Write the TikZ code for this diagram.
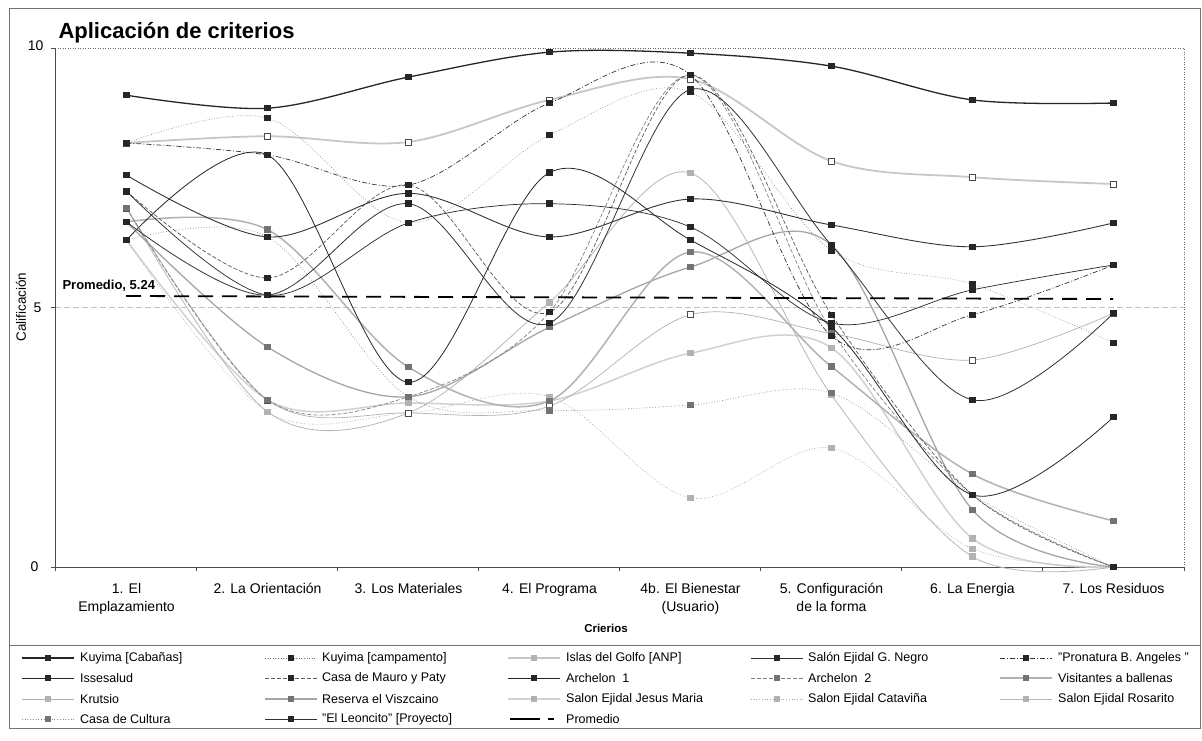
\documentclass[tikz,border=0pt]{standalone}
\usepackage{fontspec}
\setmainfont{Liberation Sans}
\newcommand\fsz[1]{\fontsize{#1}{1.2\dimexpr#1pt\relax}\selectfont}
\newcommand\ser[3]{%
 \gdef\mycoords{}%
 \foreach \v [count=\i from 0] in {#3}{\xdef\mycoords{\mycoords ({126.5+141*\i},{567-51.9*\v})}}%
 \edef\mytmp{\noexpand\draw[#1] plot[smooth,tension=0.55] coordinates {\mycoords};}\mytmp
 \foreach \v [count=\i from 0] in {#3}{\node[mk,#2] at ({126.5+141*\i},{567-51.9*\v}) {};}%
}
\newcommand\leg[4]{% x0, y, style, marker
 \draw[#3] (#1,#2) -- ++(52,0);
 \node[mk,#4] at ({#1+26},#2) {};
}
\begin{document}
\begin{tikzpicture}[x=1pt,y=-1pt,
  mk/.style={rectangle,inner sep=0pt,minimum size=6.5pt,draw=none},
  mdark/.style={fill=black!85},
  mgray/.style={fill=black!55},
  mlight/.style={fill=black!30},
  mopen/.style={fill=white,draw=black!70,line width=0.6pt,minimum size=6pt},
  sA/.style={black!85,line width=1.3pt},
  sB/.style={black!55,line width=0.6pt,dotted},
  sC/.style={black!22,line width=1.8pt},
  sD/.style={black!80,line width=0.9pt},
  sE/.style={black!80,line width=0.7pt,dash pattern=on 5pt off 2pt on 1pt off 2pt},
  sF/.style={black!85,line width=0.7pt},
  sG/.style={black!65,line width=0.7pt,dash pattern=on 4pt off 2pt},
  sH/.style={black!85,line width=0.8pt},
  sI/.style={black!50,line width=0.7pt,dash pattern=on 4pt off 2pt},
  sJ/.style={black!30,line width=1.5pt},
  sK/.style={black!30,line width=0.7pt},
  sL/.style={black!35,line width=1.3pt},
  sM/.style={black!18,line width=1.5pt},
  sN/.style={black!35,line width=0.7pt,dotted},
  sO/.style={black!28,line width=0.8pt},
  sP/.style={black!45,line width=0.7pt,dotted},
  sQ/.style={black!80,line width=0.8pt},
  lbl/.style={font=\fsz{14},inner sep=1pt},
  legt/.style={font=\fsz{12.5},anchor=west,inner sep=0pt}
]
\useasboundingbox (0,0) rectangle (1202,740);
\fill[white] (0,0) rectangle (1202,740);
% frames
\draw[black!55,line width=0.8pt] (9,8) rectangle (1200,728);
\draw[black!55,line width=0.8pt] (9,645) -- (1200,645);
% plot area
\draw[black!60,line width=0.5pt,dotted] (55,48) -- (1184,48) -- (1184,567);
\draw[black!25,line width=0.6pt,dash pattern=on 6pt off 3pt] (55,307.5) -- (1184,307.5);
\draw[black!70,line width=0.6pt] (55,48) -- (55,567) -- (1184,567);
\foreach \k in {0,...,8} \draw[black!70,line width=0.5pt] ({55+141.1*\k},567) -- ++(0,4);
\foreach \yy in {48,307.5,567} \draw[black!70,line width=0.5pt] (51,\yy) -- (55,\yy);
\node[anchor=east,font=\fsz{14}] (y10) at (47,46) {10};
\node[anchor=east,font=\fsz{14}] (y5) at (45,308) {5};
\node[anchor=east,font=\fsz{14}] (y0) at (42,567) {0};
\node[rotate=90,font=\fsz{13.5}] (ylab) at (21,307) {Calificación};
% title
\node[anchor=base west,font=\bfseries\fsz{22}] (title) at (55,38) {Aplicación de criterios};
% categories
\node[lbl,anchor=north,align=center] (c1) at (126.5,582) {1. El\\[1pt]Emplazamiento};
\node[lbl,anchor=north] (c2) at (267.5,582) {2. La Orientación};
\node[lbl,anchor=north] (c3) at (408.5,582) {3. Los Materiales};
\node[lbl,anchor=north] (c4) at (549.5,582) {4. El Programa};
\node[lbl,anchor=north,align=center] (c5) at (690.5,582) {4b. El Bienestar\\[1pt](Usuario)};
\node[lbl,anchor=north,align=center] (c6) at (831.5,582) {5. Configuración\\[1pt]de la forma};
\node[lbl,anchor=north] (c7) at (972.5,582) {6. La Energia};
\node[lbl,anchor=north] (c8) at (1113.5,582) {7. Los Residuos};
\node[font=\bfseries\fsz{11.5}] (xlab) at (606,628) {Crierios};
% series (light first)
\ser{sC}{mopen}{8.17,8.3,8.19,9.0,9.4,7.82,7.51,7.38}
\ser{sM}{mlight}{6.3,3.22,3.16,3.2,4.12,4.22,0.55,0}
\ser{sN}{mlight}{6.3,2.99,2.97,3.28,1.33,2.29,0.35,0}
\ser{sO}{mlight}{6.92,2.99,2.97,5.1,7.59,3.31,0.2,0}
\ser{sK}{mopen}{6.92,3.22,2.97,3.1,4.86,4.5,3.99,4.89}
\ser{sL}{mgray}{6.65,4.24,3.28,4.62,5.78,6.2,1.1,0}
\ser{sJ}{mgray}{6.65,6.5,3.85,3.2,6.07,3.86,1.79,0.89}
\ser{sP}{mgray}{6.3,6.36,3.28,3.02,3.12,3.35,1.39,0}
\ser{sI}{mgray}{6.92,3.22,3.28,4.91,9.48,4.55,1.39,0}
\ser{sB}{mdark}{8.17,8.65,6.63,8.32,9.15,6.1,5.45,4.32}
\ser{sE}{mdark}{8.17,7.94,7.36,8.94,9.48,4.45,4.86,5.82}
\ser{sG}{mdark}{7.24,5.57,7.36,4.91,9.48,4.86,1.39,0}
\ser{sF}{mdark}{7.24,5.24,6.63,7.0,6.55,4.7,5.34,5.82}
\ser{sQ}{mdark}{6.65,5.24,7.0,4.7,9.2,6.2,3.22,4.89}
\ser{sH}{mdark}{6.3,7.94,3.56,7.6,6.3,4.62,1.39,2.89}
\ser{sD}{mdark}{7.55,6.36,7.2,6.36,7.09,6.59,6.17,6.63}
\ser{sA}{mdark}{9.09,8.84,9.44,9.92,9.9,9.65,9.0,8.94}
% promedio
\coordinate (pa) at (126,296);
\coordinate (pb) at (1113,299);
\draw[black,line width=1.8pt,dash pattern=on 15pt off 9pt] (pa) -- (pb);
\node[anchor=base west,font=\bfseries\fsz{13}] (plab) at (59,289) {Promedio, 5.24};
% legend
\leg{22}{658}{sA}{mdark}\node[legt] (l1) at (80,658) {Kuyima [Cabañas]};
\leg{265}{658}{sB}{mdark}\node[legt] (l2) at (322,658) {Kuyima [campamento]};
\leg{508}{658}{sC}{mlight}\node[legt] (l3) at (566,658) {Islas del Golfo [ANP]};
\leg{751}{658}{sD}{mdark}\node[legt] (l4) at (808,658) {Salón Ejidal G. Negro};
\leg{1000}{658}{sE}{mdark}\node[legt] (l5) at (1058,658) {"Pronatura B. Angeles "};
\leg{22}{678}{sF}{mdark}\node[legt] (l6) at (80,678) {Issesalud};
\leg{265}{678}{sG}{mdark}\node[legt] (l7) at (322,678) {Casa de Mauro y Paty};
\leg{508}{678}{sH}{mdark}\node[legt] (l8) at (566,678) {Archelon\ \ 1};
\leg{751}{678}{sI}{mgray}\node[legt] (l9) at (808,678) {Archelon\ \ 2};
\leg{1000}{678}{sJ}{mgray}\node[legt] (l10) at (1058,678) {Visitantes a ballenas};
\leg{22}{699}{sK}{mlight}\node[legt] (l11) at (80,699) {Krutsio};
\leg{265}{699}{sL}{mgray}\node[legt] (l12) at (322,699) {Reserva el Viszcaino};
\leg{508}{699}{sM}{mlight}\node[legt] (l13) at (566,699) {Salon Ejidal Jesus Maria};
\leg{751}{699}{sN}{mlight}\node[legt] (l14) at (808,699) {Salon Ejidal Cataviña};
\leg{1000}{699}{sO}{mlight}\node[legt] (l15) at (1058,699) {Salon Ejidal Rosarito};
\leg{22}{719}{sP}{mgray}\node[legt] (l16) at (80,719) {Casa de Cultura};
\leg{265}{719}{sQ}{mdark}\node[legt] (l17) at (322,719) {"El Leoncito" [Proyecto]};
\draw[black,line width=1.8pt] (510,719) -- ++(30,0);
\draw[black,line width=1.8pt] (548,719) -- ++(6,0);
\node[legt] (l18) at (566,719) {Promedio};
\end{tikzpicture}
\end{document}
